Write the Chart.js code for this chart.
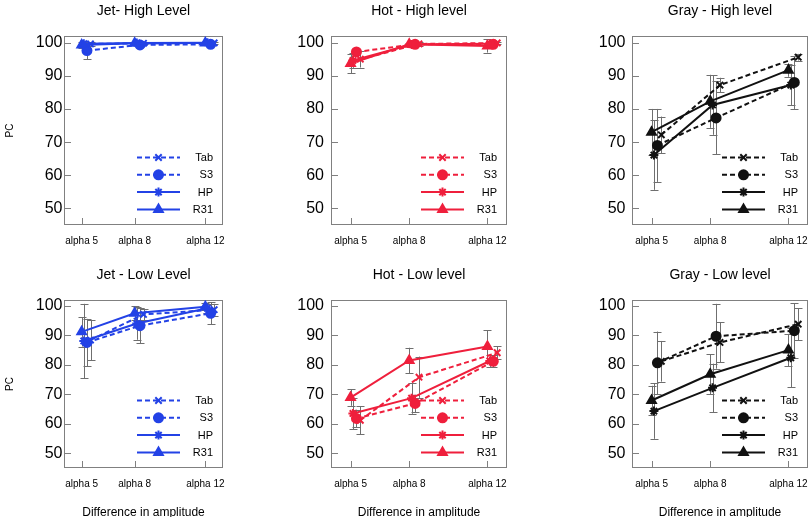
<!DOCTYPE html>
<html>
<head>
<meta charset="utf-8">
<script src="https://cdn.jsdelivr.net/npm/chart.js@4"></script>
<style>
    html, body { margin: 0; padding: 0; background: #fff; overflow: hidden; }
    body { width: 811px; height: 517px; position: relative; }
    .panel { position: absolute; }
</style>
</head>
<body>
<script>
// x categories (amplitude difference) and their labels
let alphaLevels = [5, 8, 12]
let tickLabels = ['alpha 5', 'alpha 8', 'alpha 12']
let yTicks = [50, 60, 70, 80, 90, 100]

let seriesNames = ['Tab', 'S3', 'HP', 'R31']

// PC values, rows = Tab, S3, HP, R31 ; columns = alpha 5, 8, 12
let jetHighPC = [[99.6, 99.8, 99.9], [97.6, 99.3, 99.5], [99.7, 99.9, 100], [99.3, 99.8, 99.9]]
let jetHighErr = [[0.5, 0.3, 0.2], [2.6, 0.6, 0.5], [0.4, 0.2, 0.1], [0.8, 0.3, 0.2]]

let hotHighPC = [[95.0, 99.6, 99.9], [97.2, 99.5, 99.5], [94.6, 99.4, 99.7], [93.7, 99.5, 99.0]]
let hotHighErr = [[2.5, 0.5, 0.3], [0.8, 0.5, 0.6], [2.2, 0.6, 0.5], [3.0, 0.5, 2.0]]

let grayHighPC = [[72.2, 87.2, 95.6], [69.0, 77.3, 88.0], [66.1, 81.2, 87.2], [73.0, 82.3, 91.7]]
let grayHighErr = [[5.5, 2.2, 1.0], [11.0, 11.0, 8.0], [10.5, 9.0, 6.0], [7.0, 8.0, 2.0]]

let jetLowPC = [[88.4, 97.1, 98.7], [87.6, 93.3, 97.5], [88.1, 94.0, 99.2], [91.2, 97.5, 99.7]]
let jetLowErr = [[6.8, 2.0, 2.0], [8.0, 6.0, 3.8], [12.6, 5.5, 1.5], [5.0, 2.3, 1.2]]

let hotLowPC = [[61.2, 75.8, 84.1], [61.8, 66.9, 81.2], [63.5, 68.7, 81.3], [68.9, 81.5, 86.2]]
let hotLowErr = [[4.7, 7.0, 2.2], [3.0, 3.0, 2.0], [5.3, 5.3, 2.0], [2.8, 4.3, 5.5]]

let grayLowPC = [[81.2, 87.6, 93.8], [80.7, 89.7, 91.6], [64.3, 72.2, 82.4], [67.9, 76.8, 85.0]]
let grayLowErr = [[6.9, 6.8, 5.4], [10.6, 11.0, 9.3], [9.4, 8.2, 10.0], [5.0, 6.8, 5.5]]

// styling per series
let seriesShift = [0.5, 0.3, 0.12, 0]
let seriesDash = [[5, 3], [5, 3], [], []]
let seriesPoint = ['crossRot', 'circle', 'star', 'triangle']
let seriesRadius = [4.5, 4.5, 4.5, 5]

let jetBlue = '#2342e6'
let hotRed = '#ef1f3c'
let grayBlack = '#111111'

let panels = [
    {title: 'Jet- High Level', pc: jetHighPC, err: jetHighErr, color: jetBlue, col: 0, row: 0},
    {title: 'Hot - High level', pc: hotHighPC, err: hotHighErr, color: hotRed, col: 1, row: 0},
    {title: 'Gray - High level', pc: grayHighPC, err: grayHighErr, color: grayBlack, col: 2, row: 0},
    {title: 'Jet - Low Level', pc: jetLowPC, err: jetLowErr, color: jetBlue, col: 0, row: 1},
    {title: 'Hot - Low level', pc: hotLowPC, err: hotLowErr, color: hotRed, col: 1, row: 1},
    {title: 'Gray - Low level', pc: grayLowPC, err: grayLowErr, color: grayBlack, col: 2, row: 1},
]

// plot box geometry in page pixels
let colLeft = [64, 331, 632]
let colRight = [223, 507, 808]
let rowTop = [36, 300]
let rowBottom = [225, 468]
let yLabelPad = [1.5, 7, 6.5]
let axisW = 60
let xAxisH = [30, 55]

let fontFamily = '"Liberation Sans", Arial, Helvetica, sans-serif'
Chart.defaults.font.family = fontFamily
Chart.defaults.color = '#000'

let panelDecor = {
    id: 'panelDecor',
    beforeDatasetsDraw(chart) {
        let {ctx, chartArea: a, scales} = chart
        ctx.save()
        ctx.strokeStyle = '#808080'
        ctx.lineWidth = 1
        ctx.strokeRect(a.left + 0.5, a.top + 0.5, a.right - a.left - 1, a.bottom - a.top - 1)
        ctx.beginPath()
        yTicks.forEach((v) => {
            let y = Math.round(scales.y.getPixelForValue(v)) + 0.5
            ctx.moveTo(a.left, y)
            ctx.lineTo(a.left + 7, y)
        })
        alphaLevels.forEach((v) => {
            let x = Math.round(scales.x.getPixelForValue(v)) + 0.5
            ctx.moveTo(x, a.bottom)
            ctx.lineTo(x, a.bottom - 7)
        })
        ctx.stroke()

        // error bars
        ctx.strokeStyle = '#6f6f6f'
        ctx.beginPath()
        chart.data.datasets.forEach((ds) => {
            ds.data.forEach((p, i) => {
                let e = ds.errors[i]
                let x = Math.round(scales.x.getPixelForValue(p.x)) + 0.5
                let y1 = scales.y.getPixelForValue(Math.min(p.y + e, 102))
                let y2 = scales.y.getPixelForValue(p.y - e)
                ctx.moveTo(x, y1)
                ctx.lineTo(x, y2)
                if (p.y + e <= 102) {
                    ctx.moveTo(x - 4, Math.round(y1) + 0.5)
                    ctx.lineTo(x + 4, Math.round(y1) + 0.5)
                }
                ctx.moveTo(x - 4, Math.round(y2) + 0.5)
                ctx.lineTo(x + 4, Math.round(y2) + 0.5)
            })
        })
        ctx.stroke()
        ctx.restore()
    },
    afterDatasetsDraw(chart) {
        let {ctx, chartArea: a} = chart
        let color = chart.options.plugins.panelDecor.color
        ctx.save()
        seriesNames.forEach((name, i) => {
            let y = a.bottom - 67.5 + i * 17.3
            ctx.strokeStyle = color
            ctx.fillStyle = color
            ctx.lineWidth = 2
            ctx.setLineDash(seriesDash[i])
            ctx.beginPath()
            ctx.moveTo(a.right - 86, y)
            ctx.lineTo(a.right - 43, y)
            ctx.stroke()
            ctx.setLineDash([])
            Chart.helpers.drawPoint(ctx, {pointStyle: seriesPoint[i], radius: seriesRadius[i], rotation: 0, borderWidth: 2}, a.right - 64.5, y)
            ctx.fillStyle = '#000'
            ctx.font = '11px ' + fontFamily
            ctx.textAlign = 'right'
            ctx.textBaseline = 'middle'
            ctx.fillText(name, a.right - 10, y + 0.5)
        })
        ctx.restore()
    },
}

panels.forEach((panel) => {
    let {col, row} = panel
    let w = axisW + (colRight[col] - colLeft[col]) + axisW
    let h = (rowBottom[row] - rowTop[row]) + 36 + xAxisH[row]

    let div = document.createElement('div')
    div.className = 'panel'
    div.style.left = (colLeft[col] - axisW) + 'px'
    div.style.top = (rowTop[row] - 36) + 'px'
    div.style.width = w + 'px'
    div.style.height = h + 'px'
    let canvas = document.createElement('canvas')
    canvas.width = w
    canvas.height = h
    div.appendChild(canvas)
    document.body.appendChild(div)

    let datasets = seriesNames.map((name, s) => ({
        label: name,
        data: alphaLevels.map((a, i) => ({x: a + seriesShift[s], y: panel.pc[s][i]})),
        errors: panel.err[s],
        borderColor: panel.color,
        backgroundColor: panel.color,
        borderWidth: 2,
        borderDash: seriesDash[s],
        pointStyle: seriesPoint[s],
        pointRadius: seriesRadius[s],
        pointBorderWidth: 2,
        pointBackgroundColor: panel.color,
        pointBorderColor: panel.color,
        yAxisID: 'y',
    }))

    new Chart(canvas, {
        type: 'line',
        data: {datasets},
        options: {
            responsive: false,
            animation: false,
            devicePixelRatio: 1,
            layout: {padding: 0},
            plugins: {
                legend: {display: false},
                tooltip: {enabled: false},
                title: {
                    display: true,
                    text: panel.title,
                    color: '#000',
                    font: {size: 14, weight: 'normal'},
                    padding: {top: 2.5, bottom: 16.7},
                },
                panelDecor: {color: panel.color},
            },
            scales: {
                x: {
                    type: 'linear',
                    min: 4,
                    max: 13,
                    afterBuildTicks(scale) {
                        scale.ticks = alphaLevels.map((v) => ({value: v}))
                    },
                    afterFit(scale) {
                        scale.height = xAxisH[row]
                    },
                    grid: {display: false, drawTicks: false},
                    border: {display: false},
                    ticks: {
                        callback: (v, i) => tickLabels[i],
                        font: {size: 10},
                        color: '#000',
                        padding: 10.5,
                        maxRotation: 0,
                        autoSkip: false,
                    },
                    title: {
                        display: row === 1,
                        text: 'Difference in amplitude',
                        color: '#000',
                        font: {size: 12},
                        padding: {top: 4, bottom: 3},
                    },
                },
                y: {
                    min: 45,
                    max: 102,
                    afterBuildTicks(scale) {
                        scale.ticks = yTicks.map((v) => ({value: v}))
                    },
                    afterFit(scale) {
                        scale.width = axisW
                    },
                    grid: {display: false, drawTicks: false},
                    border: {display: false},
                    ticks: {
                        font: {size: 16},
                        color: '#000',
                        padding: yLabelPad[col],
                    },
                    title: {
                        display: col === 0,
                        text: 'PC',
                        color: '#000',
                        font: {size: 10},
                        padding: 0,
                    },
                },
                // empty right axis so the title centres over the plot box
                yRight: {
                    position: 'right',
                    afterFit(scale) {
                        scale.width = axisW
                    },
                    grid: {display: false, drawTicks: false},
                    border: {display: false},
                    ticks: {display: false},
                },
            },
        },
        plugins: [panelDecor],
    })
})
</script>
</body>
</html>
